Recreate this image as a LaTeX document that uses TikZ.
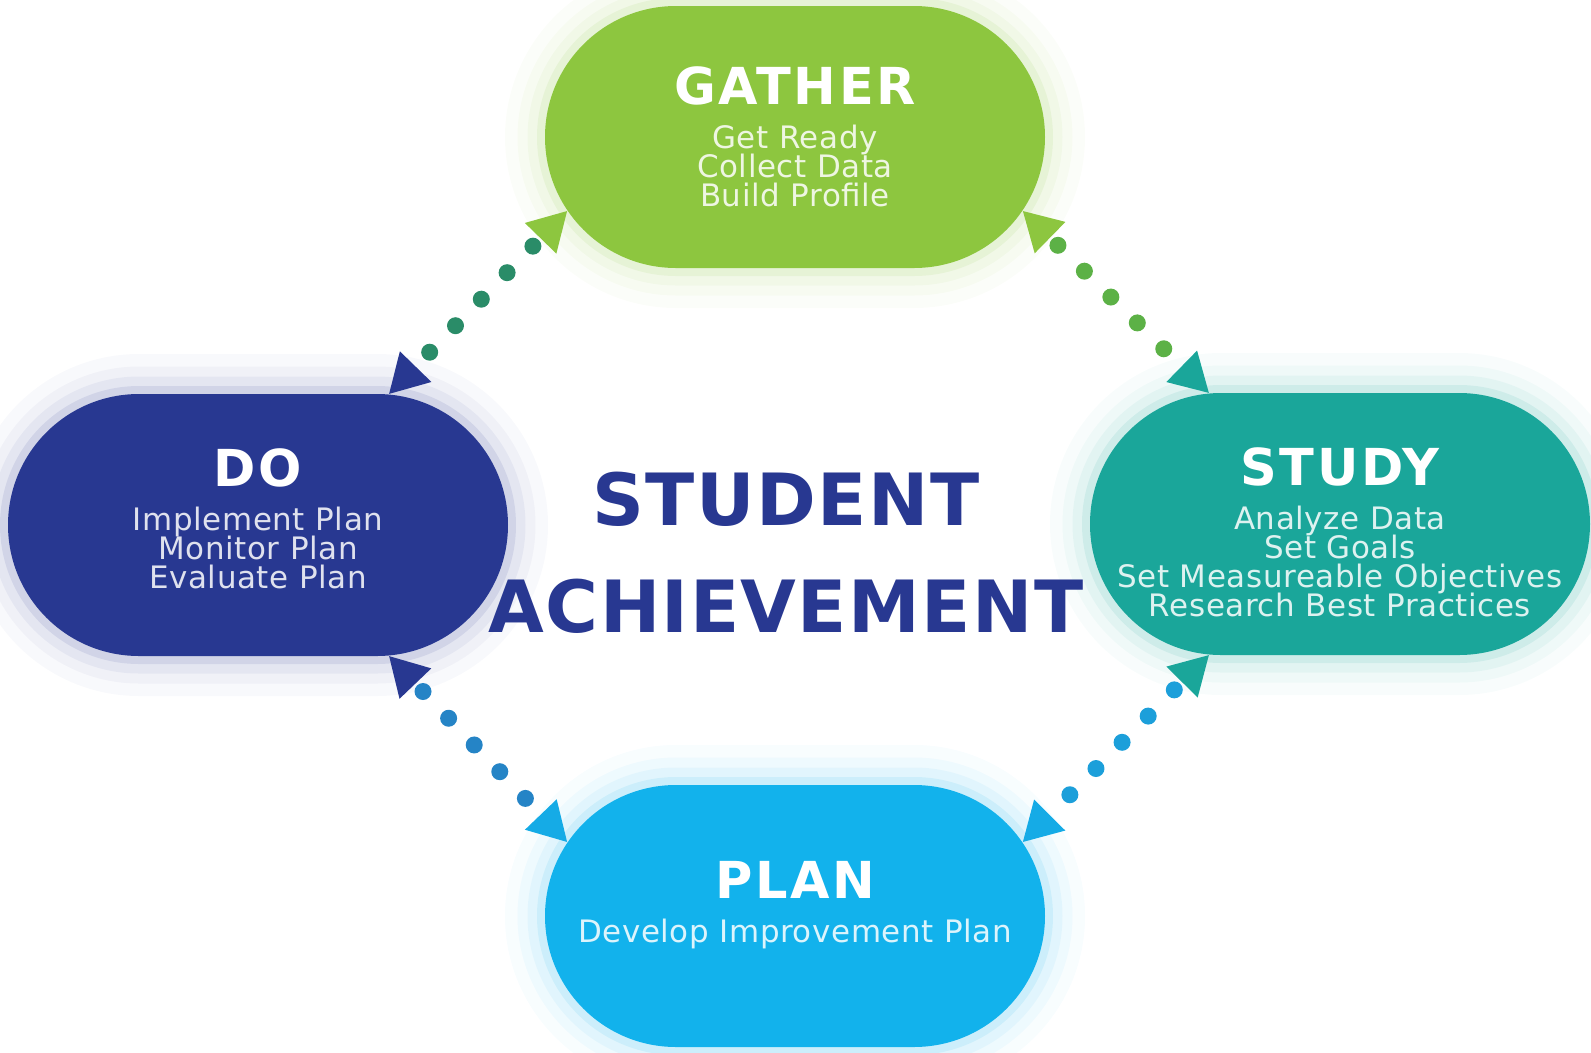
\documentclass[tikz,border=0pt]{standalone}
\usepackage{fontspec}
\setmainfont{DejaVu Sans}
\newfontfamily\titlefont{DejaVu Sans}[LetterSpace=5]
\newfontfamily\subfont{DejaVu Sans}[LetterSpace=2]
\newfontfamily\bigfont{DejaVu Sans}[LetterSpace=2]
\usetikzlibrary{shapes.misc,arrows.meta}

\definecolor{gathercol}{HTML}{8DC63F}
\definecolor{studycol}{HTML}{1AA69A}
\definecolor{docol}{HTML}{283891}
\definecolor{plancol}{HTML}{12B2EC}
\definecolor{navy}{HTML}{283891}
\definecolor{gddot}{HTML}{2A8C68}
\definecolor{gsdot}{HTML}{5CB146}
\definecolor{dpdot}{HTML}{2584C6}
\definecolor{spdot}{HTML}{1C9FDA}

\newcommand{\subtext}{\subfont\fontsize{8.8pt}{8.25pt}\selectfont\lineskiplimit=-20pt}
\newcommand{\stagetitle}[1]{{\titlefont\bfseries\fontsize{14.5pt}{14.5pt}\selectfont\color{white}#1}}

\tikzset{
  stage/.style={rounded rectangle, minimum width=50mm, minimum height=26.2mm,
    inner sep=0pt, align=center, fill=#1, text=white!85!#1, font=\subtext,
    preaction={draw=#1, line width=8mm, draw opacity=0.03},
    preaction={draw=#1, line width=5.5mm, draw opacity=0.04},
    preaction={draw=#1, line width=3.5mm, draw opacity=0.06},
    preaction={draw=#1, line width=1.6mm, draw opacity=0.1}},
  goaltext/.style={align=center, text=navy,
    font=\bigfont\bfseries\fontsize{20.5pt}{30.4pt}\selectfont},
  link/.style={line width=1.7mm, line cap=round,
    dash pattern=on 0pt off 3.7mm, dash phase=2.6mm},
  dothead/.tip={Triangle[length=3.8mm, width=4.4mm, line width=0pt]}
}

\begin{document}
\begin{tikzpicture}[x=0.1mm, y=-0.1mm]
    \useasboundingbox (0,0) rectangle (1591,1052);

    % the four stages
    \node[stage=gathercol] (gather) at (795,137)
      {\stagetitle{GATHER}\\[4.3pt] Get Ready\\ Collect Data\\ Build Profile};
    \node[stage=studycol] (study) at (1340,524)
      {\stagetitle{STUDY}\\[4.3pt] Analyze Data\\ Set Goals\\ Set Measureable Objectives\\ Research Best Practices\\[-12.7pt] \mbox{}};
    \node[stage=docol] (do) at (258,525)
      {\stagetitle{DO}\\[4.3pt] Implement Plan\\ Monitor Plan\\ Evaluate Plan\\[-4.8pt] \mbox{}};
    \node[stage=plancol] (plan) at (795,916)
      {\stagetitle{PLAN}\\[4.3pt] Develop Improvement Plan\\ \mbox{}};

    % centre text
    \node[goaltext] (goal) at (786,553) {STUDENT\\ACHIEVEMENT};

    % dotted links
    \draw[link, gddot, {dothead[color=gathercol]}-{dothead[color=docol]}] (gather.198) -- (do.45);
    \draw[link, gsdot, {dothead[color=gathercol]}-{dothead[color=studycol]}] (gather.342) -- (study.135);
    \draw[link, dpdot, {dothead[color=docol]}-{dothead[color=plancol!85!dpdot]}] (do.315) -- (plan.162);
    \draw[link, spdot, {dothead[color=studycol]}-{dothead[color=plancol!85!dpdot]}] (study.225) -- (plan.18);
\end{tikzpicture}
\end{document}
